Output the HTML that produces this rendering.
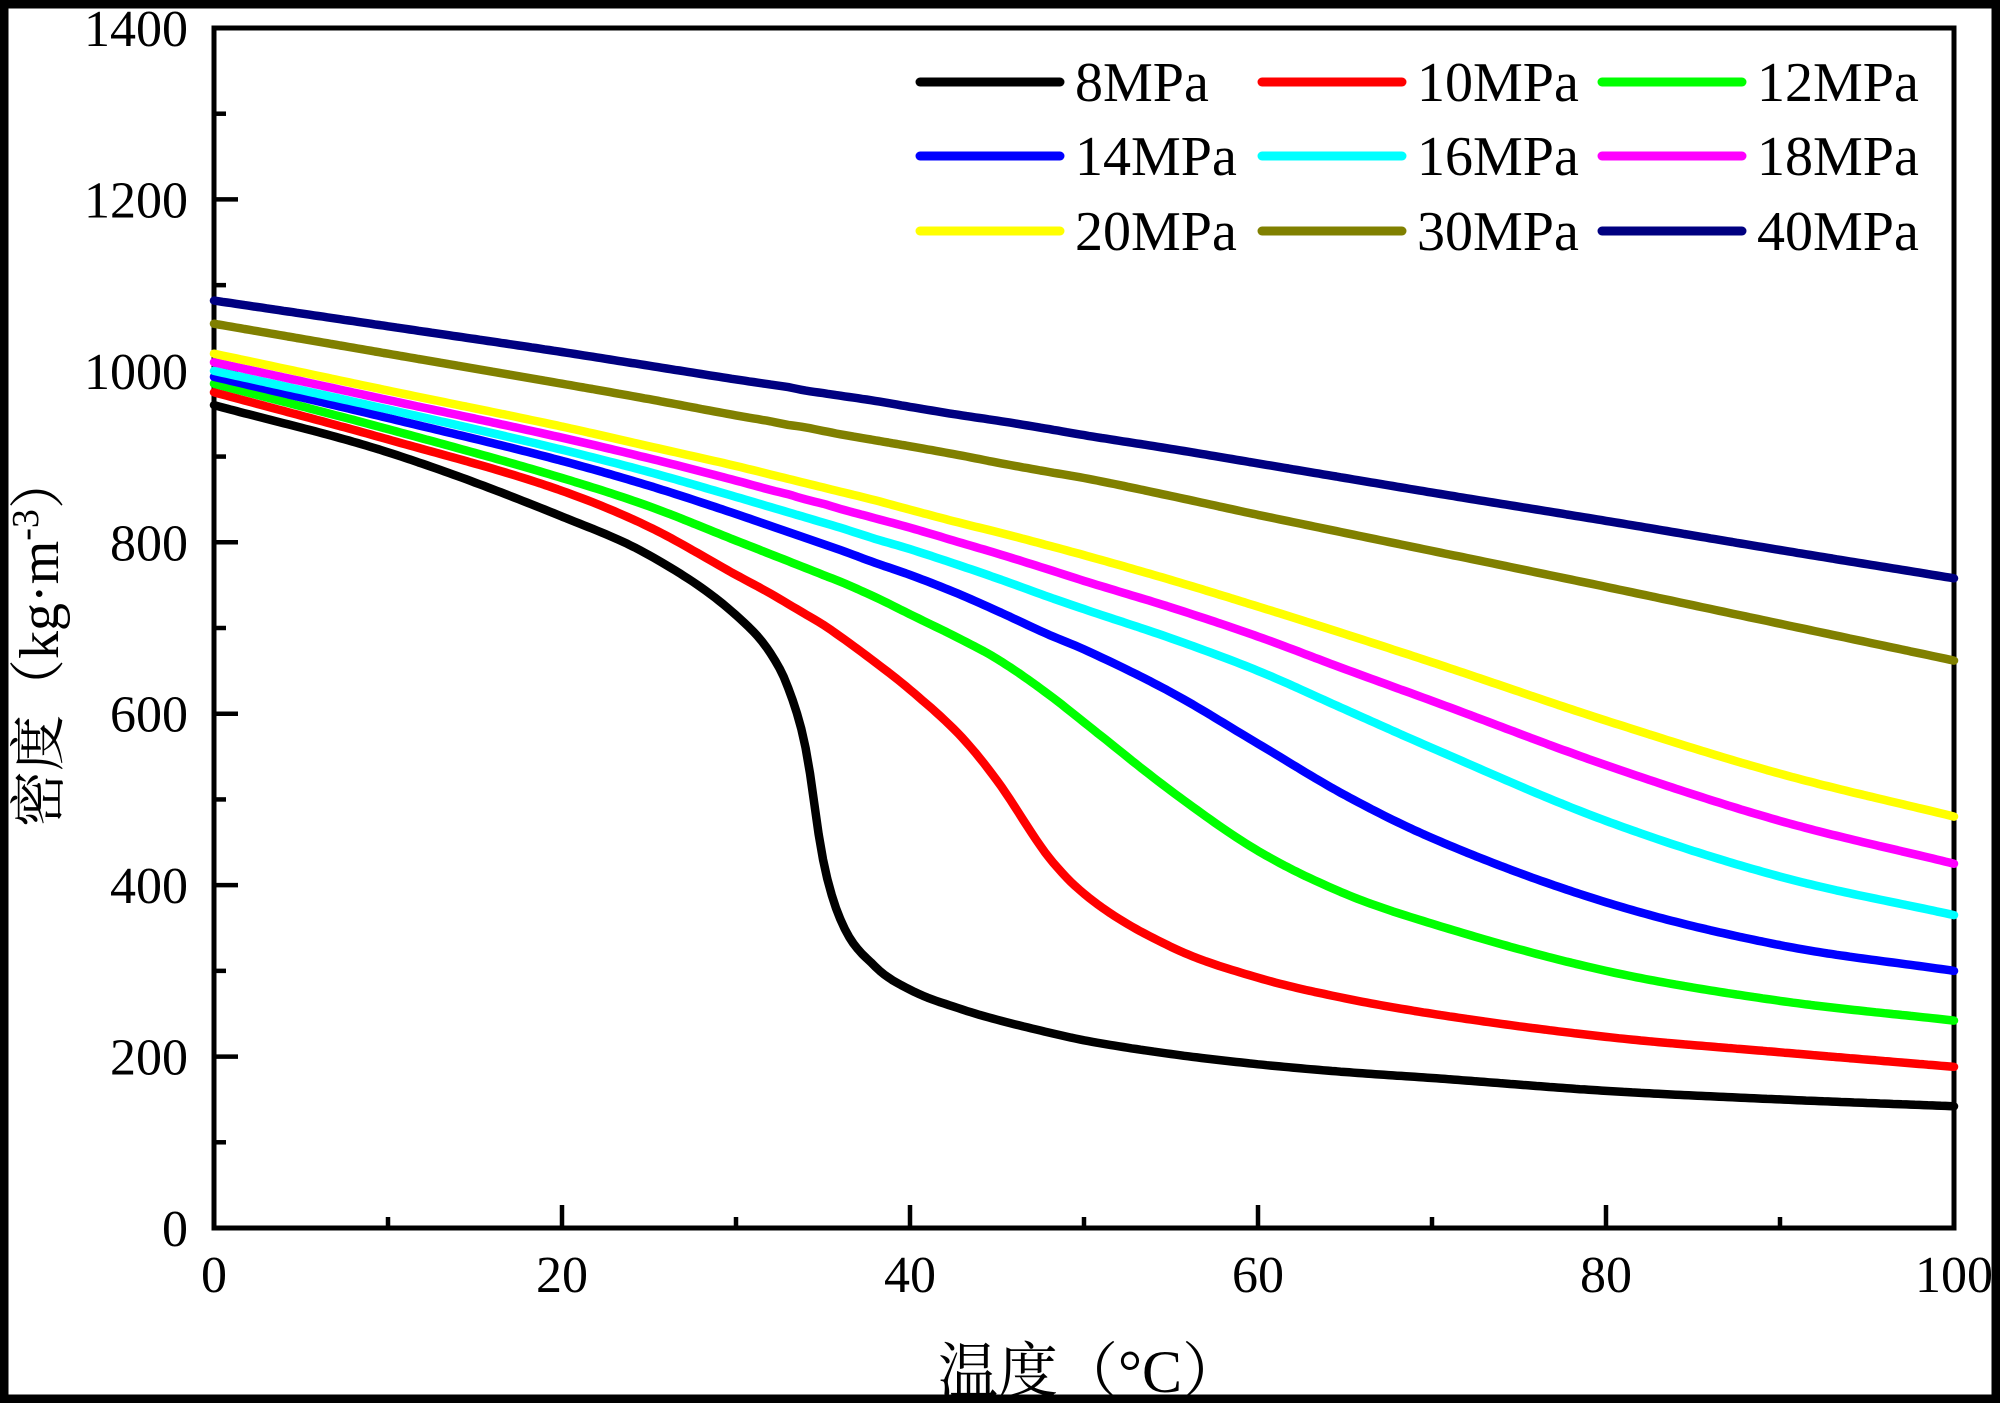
<!DOCTYPE html>
<html><head><meta charset="utf-8"><style>
html,body{margin:0;padding:0;background:#fff}
svg{display:block}
text{font-family:"Liberation Serif","Noto Serif CJK SC",serif;fill:#000}
</style></head><body>
<svg id="chart" width="2000" height="1403" viewBox="0 0 2000 1403" xmlns="http://www.w3.org/2000/svg">
<rect x="0" y="0" width="2000" height="1403" fill="#fff"/>
<rect x="4" y="4" width="1992" height="1395" fill="none" stroke="#000" stroke-width="9"/>
<g id="grid"></g>
<g id="series"></g>
<g id="legend"></g>
<text x="58" y="640" font-size="56" text-anchor="middle" transform="rotate(-90 58 640)">密度（kg·m<tspan dy="-20" font-size="38">-3</tspan><tspan dy="20">）</tspan></text>
<text x="1090" y="1392" font-size="60" text-anchor="middle">温度（°C）</text>
</svg>
<script>
const temps = [0,10,20,25,30,32,33,34,35,36,38,40,43,45,48,50,55,60,65,70,80,90,100];
const s8  = [960,905,830,785,715,670,630,560,430,360,305,278,255,243,228,219,203,191,182,175,160,150,142];
const s10 = [975,920,860,818,762,740,728,716,704,690,660,628,572,522,432,390,328,292,268,250,223,205,188];
const s12 = [985,932,875,842,802,786,778,770,762,754,736,716,686,664,622,590,510,440,390,355,300,265,242];
const s14 = [993,945,895,866,833,819,812,805,798,791,776,762,738,720,692,675,625,565,505,455,380,330,300];
const s16 = [1000,955,908,882,853,841,835,829,823,817,804,792,772,758,736,722,688,650,605,560,475,410,365];
const s18 = [1010,966,922,898,872,861,856,850,845,839,828,817,799,787,768,755,724,690,652,615,540,475,425];
const s20 = [1020,977,935,912,889,879,874,869,864,859,849,838,822,812,796,785,756,725,693,660,592,530,480];
const s30 = [1055,1020,985,967,948,941,937,934,930,926,919,912,901,893,882,875,854,832,811,790,748,705,662];
const s40 = [1082,1052,1022,1006,990,984,981,977,974,971,965,958,948,942,932,925,909,892,875,858,825,791,758];
const seriesNames = ["8MPa","10MPa","12MPa","14MPa","16MPa","18MPa","20MPa","30MPa","40MPa"];
const seriesColors = ["#000000","#ff0000","#00ff00","#0000ff","#00ffff","#ff00ff","#ffff00","#808000","#000080"];
const seriesData = [s8,s10,s12,s14,s16,s18,s20,s30,s40];
const xTicks = [0,20,40,60,80,100];
const yTicks = [0,200,400,600,800,1000,1200,1400];

const NS = "http://www.w3.org/2000/svg";
const L=214, R=1954, T=28, B=1228;
const X = v => L + (v/100)*(R-L);
const Y = v => B - (v/1400)*(B-T);
function mk(tag, attrs, parent){const e=document.createElementNS(NS,tag);for(const k in attrs)e.setAttribute(k,attrs[k]);parent.appendChild(e);return e;}

const ax = document.getElementById('grid');
const frame = mk('rect',{x:L,y:T,width:R-L,height:B-T,fill:'none',stroke:'#000','stroke-width':5},ax);


for(let v=0; v<=100; v+=10){
  const maj = v%20===0;
  const t = mk('line',{x1:X(v),x2:X(v),y1:B,y2:B-(maj?23:11),stroke:'#000','stroke-width':4.5},ax);
  
  
}
xTicks.forEach(v=>{
  const t = mk('text',{x:X(v),y:B+64,'font-size':52,'text-anchor':'middle'},ax);
  t.textContent=v;
  
  
});
for(let v=0; v<=1400; v+=100){
  const maj = v%200===0;
  const t = mk('line',{x1:L,x2:L+(maj?24:12),y1:Y(v),y2:Y(v),stroke:'#000','stroke-width':4.5},ax);
  
  
}
yTicks.forEach(v=>{
  const t = mk('text',{x:L-26,y:Y(v)+18,'font-size':52,'text-anchor':'end'},ax);
  t.textContent=v;
  
  
});

function monotone(xs, ys){
  const n=xs.length, d=[], m=new Array(n);
  for(let i=0;i<n-1;i++) d.push((ys[i+1]-ys[i])/(xs[i+1]-xs[i]));
  m[0]=d[0]; m[n-1]=d[n-2];
  for(let i=1;i<n-1;i++){ m[i]=(d[i-1]*d[i]<=0)?0:(d[i-1]+d[i])/2; }
  for(let i=0;i<n-1;i++){
    if(d[i]===0){m[i]=0;m[i+1]=0;continue;}
    const a=m[i]/d[i], b=m[i+1]/d[i], s=a*a+b*b;
    if(s>9){const t=3/Math.sqrt(s); m[i]=t*a*d[i]; m[i+1]=t*b*d[i];}
  }
  return x=>{
    let i=0; while(i<n-2 && x>xs[i+1]) i++;
    const h=xs[i+1]-xs[i], t=(x-xs[i])/h, t2=t*t, t3=t2*t;
    return (2*t3-3*t2+1)*ys[i]+(t3-2*t2+t)*h*m[i]+(-2*t3+3*t2)*ys[i+1]+(t3-t2)*h*m[i+1];
  };
}
const sg = document.getElementById('series');
seriesData.forEach((vals, k)=>{
  const f = monotone(temps, vals);
  let d='';
  for(let x=0;x<=100.0001;x+=0.25){ d += (x===0?'M':'L') + X(x).toFixed(1)+','+Y(f(x)).toFixed(1); }
  const p = mk('path',{d:d,fill:'none',stroke:seriesColors[k],'stroke-width':8.5,'stroke-linejoin':'round','stroke-linecap':'round'},sg);
  
  
});

const lg = document.getElementById('legend');
const colX=[920,1262,1602], rowY=[82,156,231];
seriesNames.forEach((nm,k)=>{
  const c=k%3, r=Math.floor(k/3);
  const ln = mk('line',{x1:colX[c],x2:colX[c]+140,y1:rowY[r],y2:rowY[r],stroke:seriesColors[k],'stroke-width':9,'stroke-linecap':'round'},lg);
  
  
  const t = mk('text',{x:colX[c]+155,y:rowY[r]+19,'font-size':56},lg);
  t.textContent=nm;
  
  
});
</script>
</body></html>
